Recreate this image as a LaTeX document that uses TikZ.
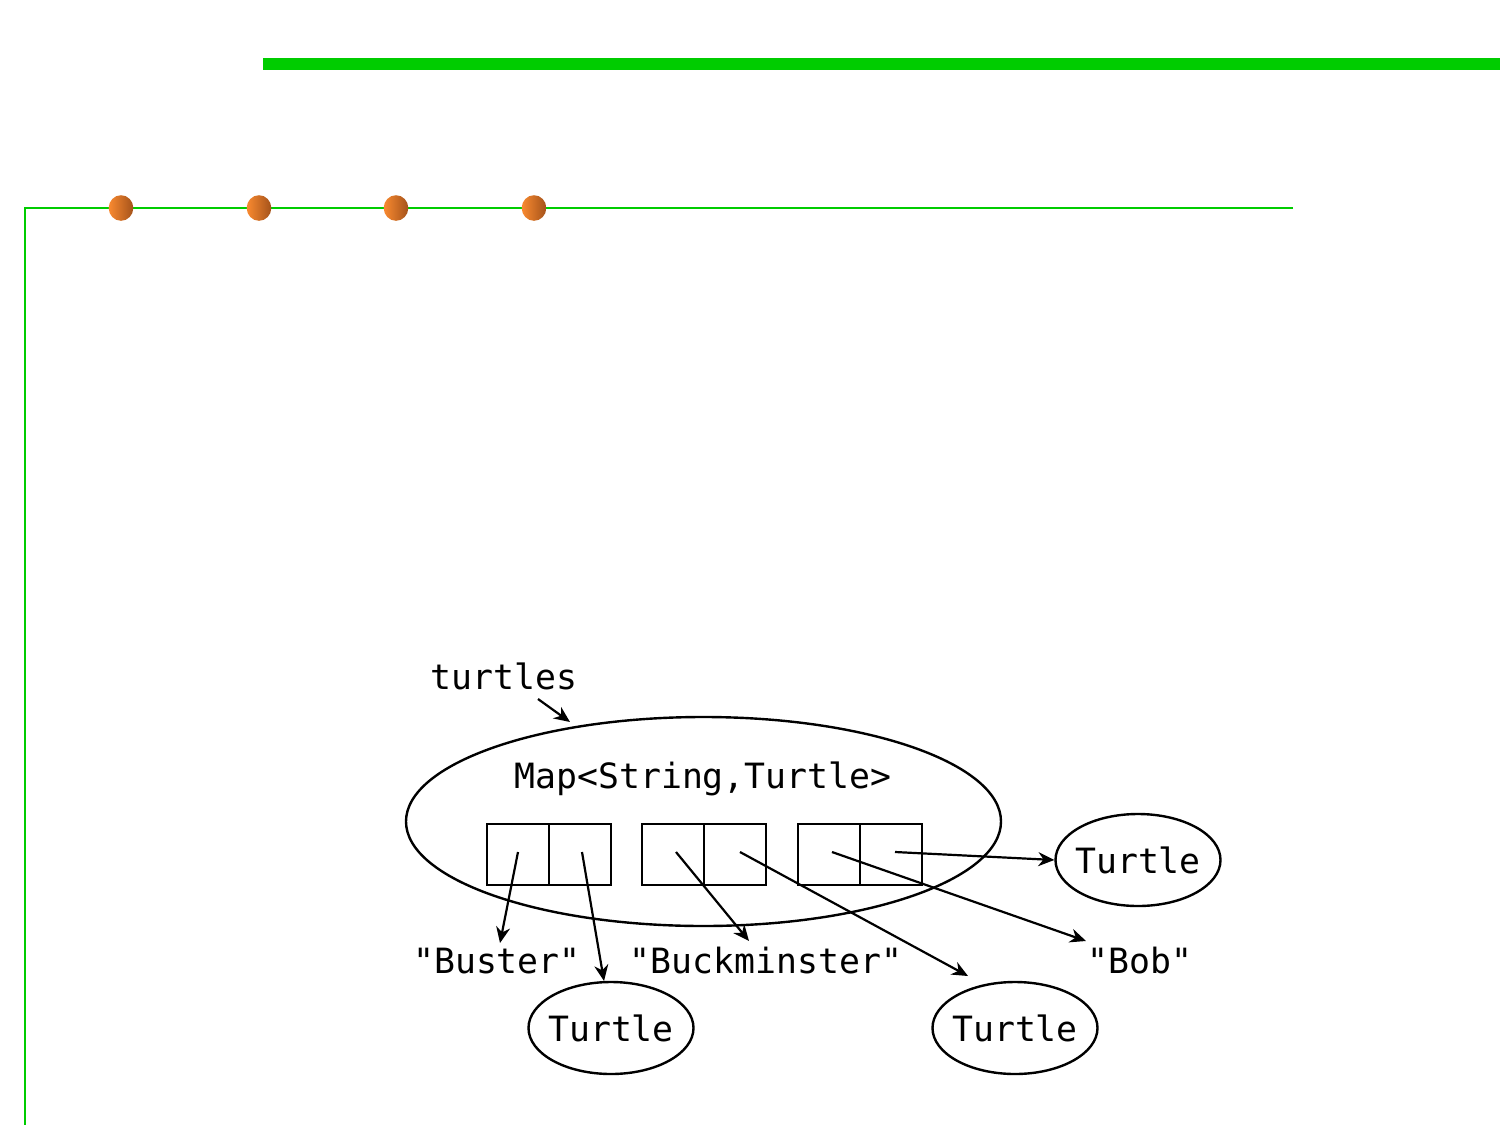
\documentclass[tikz,border=0pt]{standalone}
\usepackage{fontspec}
\setmonofont{DejaVu Sans Mono}
\usetikzlibrary{shapes.geometric,arrows.meta}
\definecolor{barGreen}{HTML}{00CC00}
\definecolor{dotLight}{HTML}{F98A30}
\definecolor{dotDark}{HTML}{A4521A}
\tikzset{
  lbl/.style={font=\ttfamily\fontsize{17.4}{20}\selectfont, inner sep=1pt},
  oval/.style={draw, line width=1.2pt, ellipse, inner sep=0pt},
  cell/.style={draw, line width=1.2pt, minimum width=31pt, minimum height=30.5pt, inner sep=0pt},
  ptr/.style={line width=1.1pt, -{Stealth[length=8pt,width=7pt]}},
  dot/.style={shading=axis, left color=dotLight, right color=dotDark, shading angle=90}
}
\begin{document}
\begin{tikzpicture}[x=0.5pt,y=-0.5pt]
\useasboundingbox (0,0) rectangle (1500,1125);
% frame
\fill[barGreen] (263,58) rectangle (1500,69.5);
\draw[barGreen, line width=1pt] (1293,208) -- (25,208) -- (25,1125);
\foreach \x/\n in {121/d1,259/d2,396/d3,534/d4}
  \shade[dot] (\x,208) ellipse [x radius=12.3, y radius=12.8];
% map
\node[oval, minimum width=297.5pt, minimum height=104.5pt] (map) at (703.5,821.5) {};
\node[lbl] (maplbl) at (703,779) {Map<String,Turtle>};
\node[lbl] (turtles) at (504,676) {turtles};
\foreach \n/\x in {c1/518,c2/580,c3/673,c4/735,c5/829,c6/891}
  \node[cell] (\n) at (\x,854.5) {};
% targets
\node[oval, minimum width=82.5pt, minimum height=46pt] (tr) at (1138,860) {};
\node[lbl] at (tr) {Turtle};
\node[oval, minimum width=82.5pt, minimum height=46pt] (tl) at (611,1028) {};
\node[lbl] at (tl) {Turtle};
\node[oval, minimum width=82.5pt, minimum height=46pt] (tm) at (1015,1028) {};
\node[lbl] at (tm) {Turtle};
\node[lbl] (buster) at (497,961) {"Buster"};
\node[lbl] (buck) at (766,961) {"Buckminster"};
\node[lbl] (bob) at (1140,961) {"Bob"};
% pointer sources and ends
\coordinate (s1) at (518,852);
\coordinate (s2) at (582,852);
\coordinate (s3) at (676,852);
\coordinate (s4) at (740,852);
\coordinate (s5) at (832,852);
\coordinate (s6) at (895,852);
\coordinate (e1) at (500,943);
\coordinate (e2) at (604,981);
\coordinate (e3) at (749,941);
\coordinate (e4) at (968,976);
\coordinate (e5) at (1086,941);
\coordinate (ts) at (538,699);
\coordinate (te) at (570,722);
\draw[ptr] (ts) -- (te);
\draw[ptr] (s1) -- (e1);
\draw[ptr] (s2) -- (e2);
\draw[ptr] (s3) -- (e3);
\draw[ptr] (s4) -- (e4);
\draw[ptr] (s5) -- (e5);
\draw[ptr] (s6) -- (tr.west);
\end{tikzpicture}
\end{document}
